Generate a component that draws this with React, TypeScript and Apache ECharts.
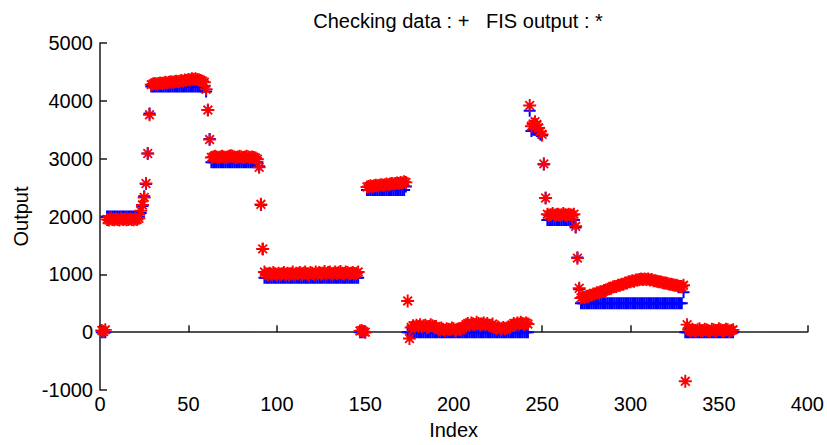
import React, { useEffect, useRef } from "react";
import * as echarts from "echarts";

// Index runs 1..358 (one value per index)
const checkA = [
  0, 0, 0,
  2000, 2000, 2000, 2000, 2000, 2000, 2000, 2000, 2000, 2000, 2000, 2000, 2000, 2000, 2000, 2000, 2000, 2000, 2000,
  2060, 2180, 2350, 2560, 3090, 3780,
  4250, 4250, 4250, 4250, 4250, 4250, 4250, 4250, 4250, 4250,
  4250, 4250, 4250, 4250, 4250, 4250, 4250, 4250, 4250, 4250,
  4250, 4250, 4250, 4250, 4250, 4250, 4250, 4250, 4250, 4250, 4250,
  4160, 3840, 3340,
];
const fisA = [
  30, 10, 40,
  1950, 1940, 1960, 1950, 1945, 1955, 1950, 1940, 1960, 1950, 1955, 1945, 1950, 1960, 1950, 1945, 1955, 1950, 1970,
  2100, 2200, 2330, 2570, 3090, 3760,
  4280, 4290, 4300, 4290, 4300, 4310, 4300, 4310, 4320, 4310,
  4320, 4330, 4320, 4330, 4340, 4330, 4340, 4350, 4340, 4360,
  4350, 4370, 4360, 4380, 4370, 4380, 4370, 4360, 4350, 4340, 4320,
  4200, 3840, 3330,
];
const checkB = [
  2940, 2940, 2940, 2940, 2940, 2940, 2940, 2940, 2940, 2940,
  2940, 2940, 2940, 2940, 2940, 2940, 2940, 2940, 2940, 2940,
  2940, 2940, 2940, 2940, 2940, 2940, 2940,
  2870, 2200, 1440,
  940, 940, 940, 940, 940, 940, 940, 940, 940, 940,
  940, 940, 940, 940, 940, 940, 940, 940, 940, 940,
  940, 940, 940, 940, 940, 940, 940, 940, 940, 940,
  940, 940, 940, 940, 940, 940, 940, 940, 940, 940,
  940, 940, 940, 940, 940, 940, 940, 940, 940, 940,
  940, 940, 940, 940,
  0, 0, 0, 0,
];
const fisB = [
  3020, 3030, 3040, 3030, 3020, 3030, 3040, 3030, 3020, 3030,
  3040, 3050, 3040, 3030, 3020, 3030, 3040, 3030, 3020, 3030,
  3040, 3030, 3020, 3030, 3020, 3010, 2990,
  2850, 2210, 1440,
  1040, 1010, 990, 1020, 1000, 1030, 1010, 990, 1020, 1000,
  1010, 1030, 1000, 1020, 990, 1010, 1040, 1000, 1020, 1010,
  1030, 1000, 1020, 1040, 1010, 990, 1030, 1020, 1000, 1040,
  1010, 1030, 1000, 1020, 1050, 1010, 1030, 1040, 1000, 1020,
  1040, 1010, 1030, 1050, 1020, 1000, 1040, 1030, 1010, 1020,
  1030, 1010, 1020, 1040,
  20, 30, 10, 0,
];
const checkC = [
  2460, 2460, 2460, 2460, 2460, 2460, 2460, 2460, 2460, 2460,
  2460, 2460, 2460, 2460, 2460, 2460, 2460, 2460, 2460, 2460,
  2460, 2460, 2520,
  0, 0,
  0, 0, 0, 0, 0, 0, 0, 0, 0, 0, 0, 0, 0, 0, 0,
  0, 0, 0, 0, 0, 0, 0, 0, 0, 0, 0, 0, 0, 0, 0,
  0, 0, 0, 0, 0, 0, 0, 0, 0, 0, 0, 0, 0, 0, 0, 0, 0,
  0, 0, 0, 0, 0, 0, 0, 0, 0, 0,
  0, 0, 0, 0, 0, 0, 0, 0, 0, 0,
];
const fisC = [
  2510, 2520, 2530, 2520, 2530, 2540, 2530, 2540, 2550, 2540,
  2550, 2560, 2550, 2560, 2570, 2560, 2570, 2580, 2570, 2590,
  2580, 2600, 2590,
  540, -110,
  80, 110, 90, 120, 100, 130, 90, 110, 120, 80, 100, 130, 110, 90, 100,
  60, 40, 70, 50, 30, 60, 50, 40, 70, 60, 30, 50, 60, 40, 70,
  100, 130, 150, 120, 160, 140, 130, 170, 150, 120, 140, 160, 130, 150, 120, 110, 140,
  80, 60, 90, 70, 50, 80, 60, 70, 90, 80,
  120, 150, 130, 160, 140, 170, 150, 130, 160, 140,
];
const checkD = [
  3830,
  3480, 3500, 3500, 3480, 3450, 3420, 3400,
  2900, 2320,
  1940, 1940, 1940, 1940, 1940, 1940, 1940, 1940, 1940, 1940, 1940, 1940, 1940, 1940, 1940, 1940,
  1810, 1290, 740,
  500, 500, 500, 500, 500, 500, 500, 500, 500, 500,
  500, 500, 500, 500, 500, 500, 500, 500, 500, 500,
  500, 500, 500, 500, 500, 500, 500, 500, 500, 500,
  500, 500, 500, 500, 500, 500, 500, 500, 500, 500,
  500, 500, 500, 500, 500, 500, 500, 500, 500, 500,
  500, 500, 500, 500, 500, 500, 500, 500,
  690,
  0, 0,
  0, 0, 0, 0, 0, 0, 0, 0, 0, 0, 0, 0, 0,
  0, 0, 0, 0, 0, 0, 0, 0, 0, 0, 0, 0, 0,
];
const fisD = [
  3920,
  3560, 3600, 3640, 3590, 3530, 3470, 3420,
  2910, 2320,
  2040, 2020, 2030, 2050, 2020, 2030, 2040, 2020, 2030, 2050, 2030, 2020, 2040, 2030, 2020, 2040,
  1830, 1280, 760,
  590, 610, 600, 620, 620, 640, 640, 660, 660, 680,
  680, 700, 700, 720, 720, 740, 760, 760, 780, 790,
  790, 810, 810, 830, 830, 850, 850, 870, 870, 890,
  880, 900, 900, 910, 920, 910, 920, 910, 920, 900,
  910, 890, 890, 880, 870, 870, 860, 850, 850, 840,
  830, 830, 820, 810, 810, 800, 790, 790,
  810,
  -850, 130,
  40, 20, 50, 30, 10, 40, 60, 30, 20, 50, 40, 30, 10,
  50, 40, 20, 30, 60, 40, 20, 30, 50, 40, 10, 30, 40,
];

const checkingData = [...checkA, ...checkB, ...checkC, ...checkD];
const fisOutput = [...fisA, ...fisB, ...fisC, ...fisD];

const xTicks = [0, 50, 100, 150, 200, 250, 300, 350, 400];
const yTicks = [-1000, 0, 1000, 2000, 3000, 4000, 5000];

const PLUS = "path://M0,5 H12 V7 H0 Z M5,0 H7 V12 H5 Z";
const STAR =
  "path://M0,5.1 H12 V6.9 H0 Z M5.1,0 H6.9 V12 H5.1 Z M1.4,2.6 L2.6,1.4 L10.6,9.4 L9.4,10.6 Z M9.4,1.4 L10.6,2.6 L2.6,10.6 L1.4,9.4 Z";

const FONT = "'Liberation Sans', Arial, sans-serif";

export default function App() {
  const ref = useRef<HTMLDivElement>(null);
  useEffect(() => {
    if (!ref.current) return;
    const chart = echarts.init(ref.current, undefined, { renderer: "svg" });
    const axisCommon = {
      axisLine: { show: true, lineStyle: { color: "#1a1a1a", width: 1.5 } },
      axisTick: { show: true, inside: true, length: 7, lineStyle: { color: "#1a1a1a", width: 1.5 } },
      splitLine: { show: false },
      axisLabel: { color: "#000", fontSize: 20, fontFamily: FONT, formatter: (v: number) => String(v) },
      nameTextStyle: { color: "#000", fontSize: 20, fontFamily: FONT },
    };
    chart.setOption({
      animation: false,
      backgroundColor: "#fff",
      textStyle: { fontFamily: FONT },
      title: {
        text: "Checking data : +   FIS output : *",
        left: 453,
        top: 6,
        textAlign: "center",
        textStyle: { color: "#000", fontSize: 20, fontWeight: "normal", fontFamily: FONT },
      },
      grid: { left: 100, right: 16, top: 43, bottom: 55, containLabel: false },
      xAxis: {
        type: "value",
        min: xTicks[0],
        max: xTicks[xTicks.length - 1],
        interval: 50,
        name: "Index",
        nameLocation: "middle",
        nameGap: 30,
        ...axisCommon,
        axisLabel: { ...axisCommon.axisLabel, margin: 4 },
      },
      yAxis: {
        type: "value",
        min: yTicks[0],
        max: yTicks[yTicks.length - 1],
        interval: 1000,
        name: "Output",
        nameLocation: "middle",
        nameGap: 66,
        ...axisCommon,
        axisLabel: { ...axisCommon.axisLabel, margin: 7 },
      },
      series: [
        {
          name: "Checking data",
          type: "scatter",
          symbol: PLUS,
          symbolSize: 12,
          itemStyle: { color: "#0000ff", opacity: 1 },
          silent: true,
          data: checkingData.map((v, i) => [i + 1, v]),
        },
        {
          name: "FIS output",
          type: "scatter",
          symbol: STAR,
          symbolSize: 13,
          itemStyle: { color: "#ff0000", opacity: 1 },
          silent: true,
          data: fisOutput.map((v, i) => [i + 1, v]),
        },
      ],
    });
    return () => chart.dispose();
  }, []);
  return <div ref={ref} style={{ width: 827, height: 445, position: "absolute", left: 0, top: 0 }} />;
}
